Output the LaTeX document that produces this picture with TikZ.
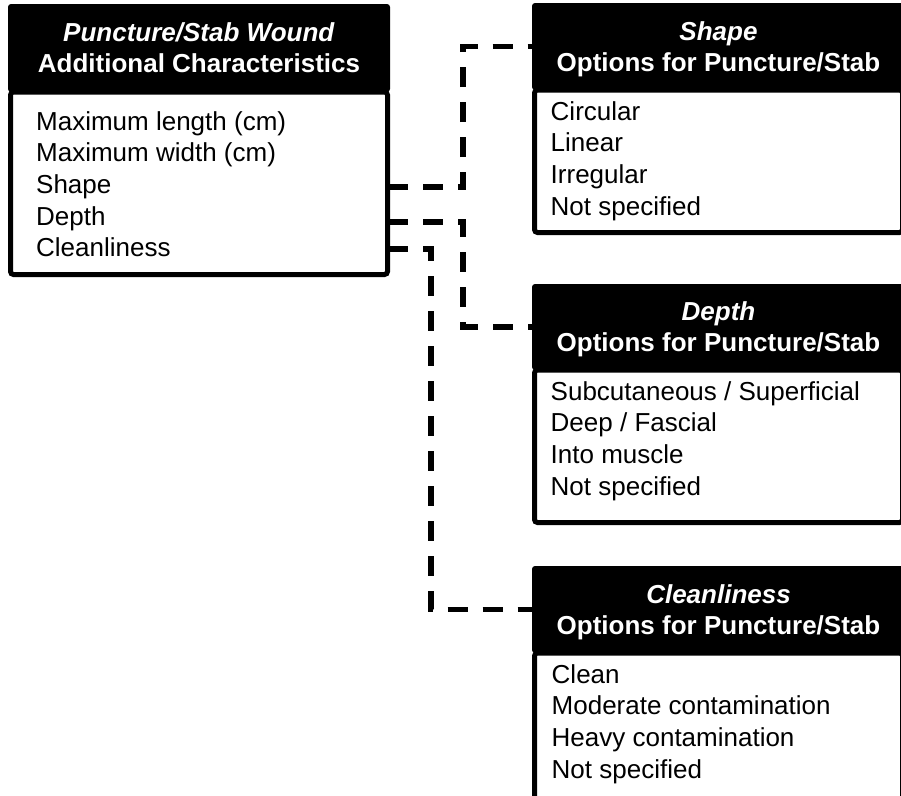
\documentclass[tikz,border=0pt]{standalone}
\usepackage{amsmath}
\usepackage{fontspec}
\setmainfont{Liberation Sans}
\usetikzlibrary{positioning}

\tikzset{
  headbox/.style={fill=black, text=white, font=\bfseries\fontsize{26}{31}\selectfont,
    align=center, anchor=north west, rounded corners=3pt, inner sep=0pt, outer sep=0pt},
  listbox/.style={draw=black, line width=5pt, fill=white, rounded corners=3pt, inner sep=0pt, outer sep=0pt},
  listtext/.style={font=\fontsize{26}{31.7}\selectfont, align=left, anchor=north west, inner sep=0pt},
  link/.style={line width=5.5pt, dash pattern=on 20pt off 15pt}
}

\begin{document}
\begin{tikzpicture}[x=1pt, y=-1pt]
\useasboundingbox (0,0) rectangle (901,795);
\clip (0,0) rectangle (901,795);

\node[headbox, minimum width=382pt, minimum height=88pt] (woundhead) at (8,4) {\textit{Puncture/Stab Wound}\\Additional Characteristics};
\node[listbox, minimum width=377pt, minimum height=182.5pt, below=0pt of woundhead] (woundbody) {};
\node[listtext] (woundlist) at ([xshift=25.5pt, yshift=-19pt]woundbody.north west) {Maximum length (cm)\\Maximum width (cm)\\Shape\\Depth\\Cleanliness};

\node[headbox, minimum width=373pt, minimum height=87pt] (shapehead) at (532,3) {\textit{Shape}\\\smash[b]{Options for Puncture/Stab}};
\node[listbox, minimum width=368pt, minimum height=142.5pt, below=0pt of shapehead] (shapebody) {};
\node[listtext] (shapelist) at ([xshift=16pt, yshift=-11pt]shapebody.north west) {Circular\\Linear\\Irregular\\Not specified};

\node[headbox, minimum width=373pt, minimum height=86pt] (depthhead) at (532,284) {\textit{Depth}\\\smash[b]{Options for Puncture/Stab}};
\node[listbox, minimum width=368pt, minimum height=152.5pt, below=0pt of depthhead] (depthbody) {};
\node[listtext] (depthlist) at ([xshift=16pt, yshift=-11pt]depthbody.north west) {Subcutaneous / Superficial\\Deep / Fascial\\Into muscle\\Not specified};

\node[headbox, minimum width=373pt, minimum height=87pt] (cleanhead) at (532,566) {\textit{Cleanliness}\\\smash[b]{Options for Puncture/Stab}};
\node[listbox, minimum width=368pt, minimum height=180pt, below=0pt of cleanhead] (cleanbody) {};
\node[listtext] (cleanlist) at ([xshift=17pt, yshift=-11pt]cleanbody.north west) {Clean\\Moderate contamination\\Heavy contamination\\Not specified};

\coordinate (shapeport) at (388,187);
\coordinate (depthport) at (388,222);
\coordinate (cleanport) at (388,249);
\coordinate (upperbend) at (463,0);
\coordinate (lowerbend) at (431,0);

\draw[link] (shapeport) -- (shapeport -| upperbend) |- (shapehead.west);
\draw[link] (depthport) -- (depthport -| upperbend) |- (depthhead.west);
\draw[link] (cleanport) -- (cleanport -| lowerbend) |- (cleanhead.west);

\end{tikzpicture}
\end{document}
